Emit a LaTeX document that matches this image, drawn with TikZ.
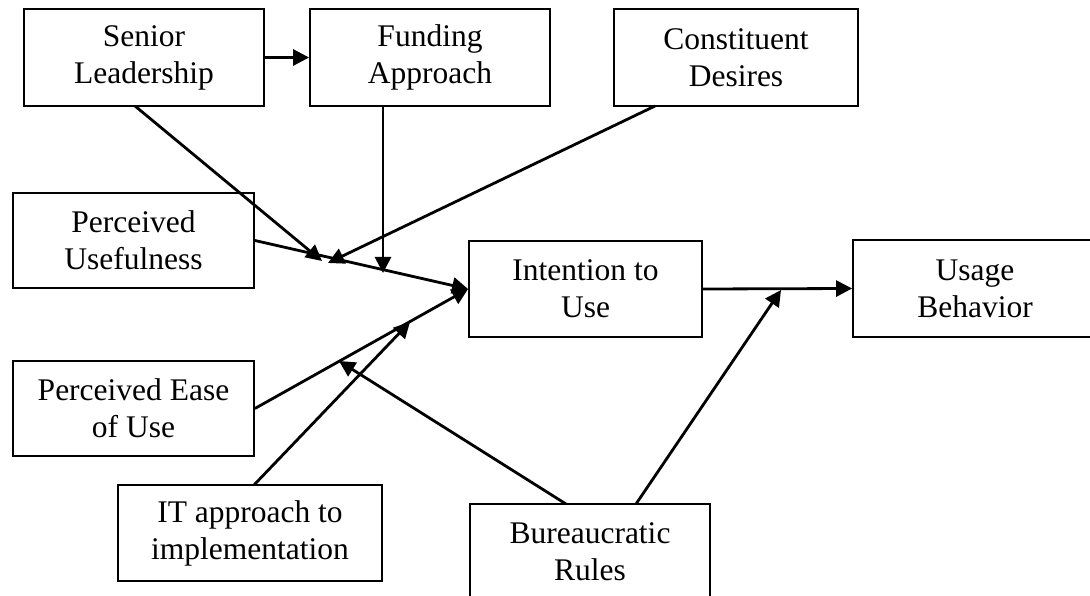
\documentclass[tikz,border=0pt]{standalone}
\usepackage{fontspec}
\setmainfont{Liberation Serif}
\usetikzlibrary{arrows.meta}
\tikzset{
  box/.style={draw, line width=1.8pt, inner sep=0pt, align=center,
    font=\fontsize{31.5}{37}\selectfont},
  arr/.style={line width=2.8pt, -{Triangle[length=16pt,width=16pt]}}
}
\begin{document}
\begin{tikzpicture}[x=1pt,y=-1pt]
\useasboundingbox (0,0) rectangle (1090,596);
\clip (0,0) rectangle (1090,596);
% boxes
\node[box, minimum width=240pt, minimum height=97pt] (SL) at (144,57.5) {Senior\\Leadership};
\node[box, minimum width=240pt, minimum height=97pt] (FA) at (430,57.5) {Funding\\Approach};
\node[box, minimum width=244pt, minimum height=97pt] (CD) at (736,57.5) {Constituent\\Desires};
\node[box, minimum width=241pt, minimum height=95pt] (PU) at (133.5,240.5) {Perceived\\Usefulness};
\node[box, minimum width=241pt, minimum height=95pt] (PEU) at (133.5,408.5) {Perceived Ease\\of Use};
\node[box, minimum width=264pt, minimum height=96pt] (IT) at (250,533) {IT approach to\\implementation};
\node[box, minimum width=240pt, minimum height=96pt] (BR) at (590,552) {Bureaucratic\\Rules};
\node[box, minimum width=233pt, minimum height=96pt] (IU) at (585.5,289) {Intention to\\Use};
\node[box, minimum width=244pt, minimum height=97pt] (UB) at (975,288.5) {Usage\\Behavior};
% free coordinates
\coordinate (s1) at (135,106);
\coordinate (t1) at (322,261);
\coordinate (s2) at (655,106);
\coordinate (t2) at (328,263);
\coordinate (s3) at (383,106);
\coordinate (t3) at (383,273);
\coordinate (s4) at (254,485);
\coordinate (t4) at (410,322);
\coordinate (s5) at (566,504);
\coordinate (t5) at (339,361);
\coordinate (s6) at (636,504);
\coordinate (t6) at (781,290);
% connectors
\draw[arr] (SL) -- (FA);
\draw[arr] (PU.east) -- (IU.west);
\draw[arr] (PEU.east) -- (IU.west);
\draw[arr] (IU.east) -- (UB.west);
\draw[arr] (s1) -- (t1);
\draw[arr] (s2) -- (t2);
\draw[arr] (s3) -- (t3);
\draw[arr] (s4) -- (t4);
\draw[arr] (s5) -- (t5);
\draw[arr] (s6) -- (t6);
\end{tikzpicture}
\end{document}
